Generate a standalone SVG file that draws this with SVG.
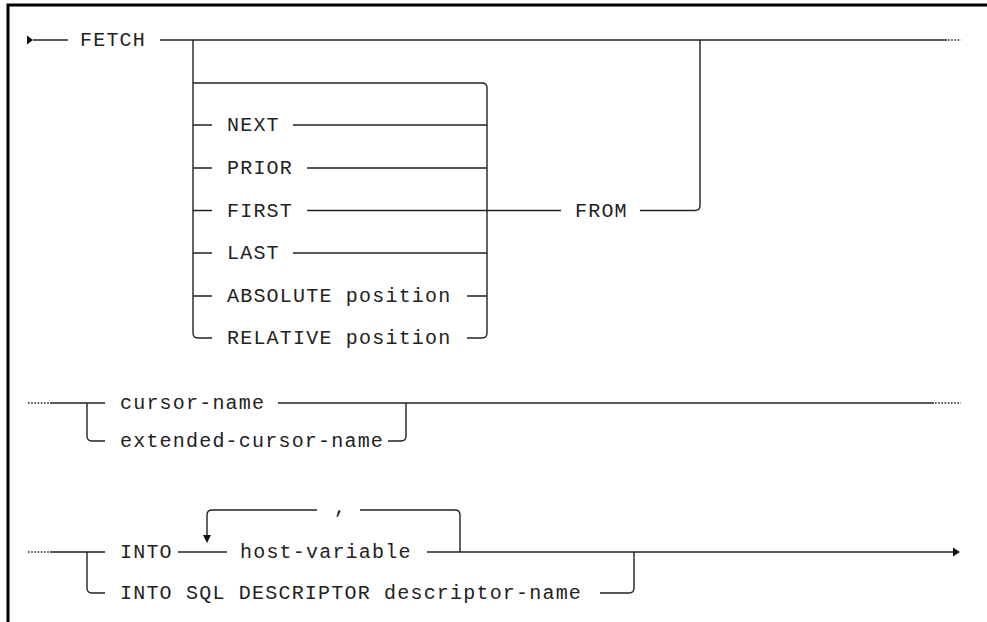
<svg xmlns="http://www.w3.org/2000/svg" width="987" height="622" viewBox="0 0 987 622">
<style>
text{font-family:"Liberation Mono","DejaVu Sans Mono",monospace;font-size:20px;letter-spacing:1.2px;fill:#222}
.ln{fill:none;stroke:#222;stroke-width:1.4}
.dot{fill:none;stroke:#222;stroke-width:1.6;stroke-dasharray:1.6 1.6}
.ah{fill:#111}
</style>
<rect width="987" height="622" fill="#fff"/>
<path d="M8 622V5H987" fill="none" stroke="#000" stroke-width="3"/>
<g id="connectors">
  <polygon class="ah" points="27,35.5 33,40 27,44.5"/>
  <path class="ln" d="M33 40H68"/>
  <path class="ln" d="M160 40H947"/>
  <path class="dot" d="M948 40H961"/>
  <path class="ln" d="M193 40V333Q193 338 198 338H212"/>
  <path class="ln" d="M193 83H482Q487 83 487 88V333Q487 338 482 338H467"/>
  <path class="ln" d="M193 125H212M293 125H487"/>
  <path class="ln" d="M193 168H212M307 168H487"/>
  <path class="ln" d="M193 210.5H212M307 210.5H561"/>
  <path class="ln" d="M193 253H212M293 253H487"/>
  <path class="ln" d="M193 296H212M467 296H487"/>
  <path class="ln" d="M640 210.5H695Q700 210.5 700 205.5V40"/>
  <path class="dot" d="M28 403H50"/>
  <path class="ln" d="M50 403H105M87 403V436Q87 441 92 441H105"/>
  <path class="ln" d="M278 403H934"/>
  <path class="dot" d="M935 403H961"/>
  <path class="ln" d="M388 441H401Q406 441 406 436V403"/>
  <path class="dot" d="M28 552H50"/>
  <path class="ln" d="M50 552H105M87 552V588Q87 593 92 593H105"/>
  <path class="ln" d="M178 552H227"/>
  <path class="ln" d="M207 536V515Q207 510 212 510H317M360 510H455Q460 510 460 515V552"/>
  <polygon class="ah" points="203,535 211,535 207,543"/>
  <path class="ln" d="M427 552H953"/>
  <polygon class="ah" points="953,547.5 960,552 953,556.5"/>
  <path class="ln" d="M600 593H629Q634 593 634 588V552"/>
</g>
<g id="fetch"><text x="80" y="46">FETCH</text></g>
<g id="next"><text x="227" y="131">NEXT</text></g>
<g id="prior"><text x="227" y="174">PRIOR</text></g>
<g id="first"><text x="227" y="216.5">FIRST</text></g>
<g id="last"><text x="227" y="259">LAST</text></g>
<g id="absolute"><text x="227" y="302">ABSOLUTE position</text></g>
<g id="relative"><text x="227" y="344">RELATIVE position</text></g>
<g id="from"><text x="575" y="216.5">FROM</text></g>
<g id="cursor-name"><text x="120" y="409">cursor-name</text></g>
<g id="extended-cursor-name"><text x="120" y="447">extended-cursor-name</text></g>
<g id="into"><text x="120" y="558">INTO</text></g>
<g id="host-variable"><text x="240" y="558">host-variable</text></g>
<g id="comma"><text x="334" y="513">,</text></g>
<g id="into-sql"><text x="120" y="599">INTO SQL DESCRIPTOR descriptor-name</text></g>
</svg>
